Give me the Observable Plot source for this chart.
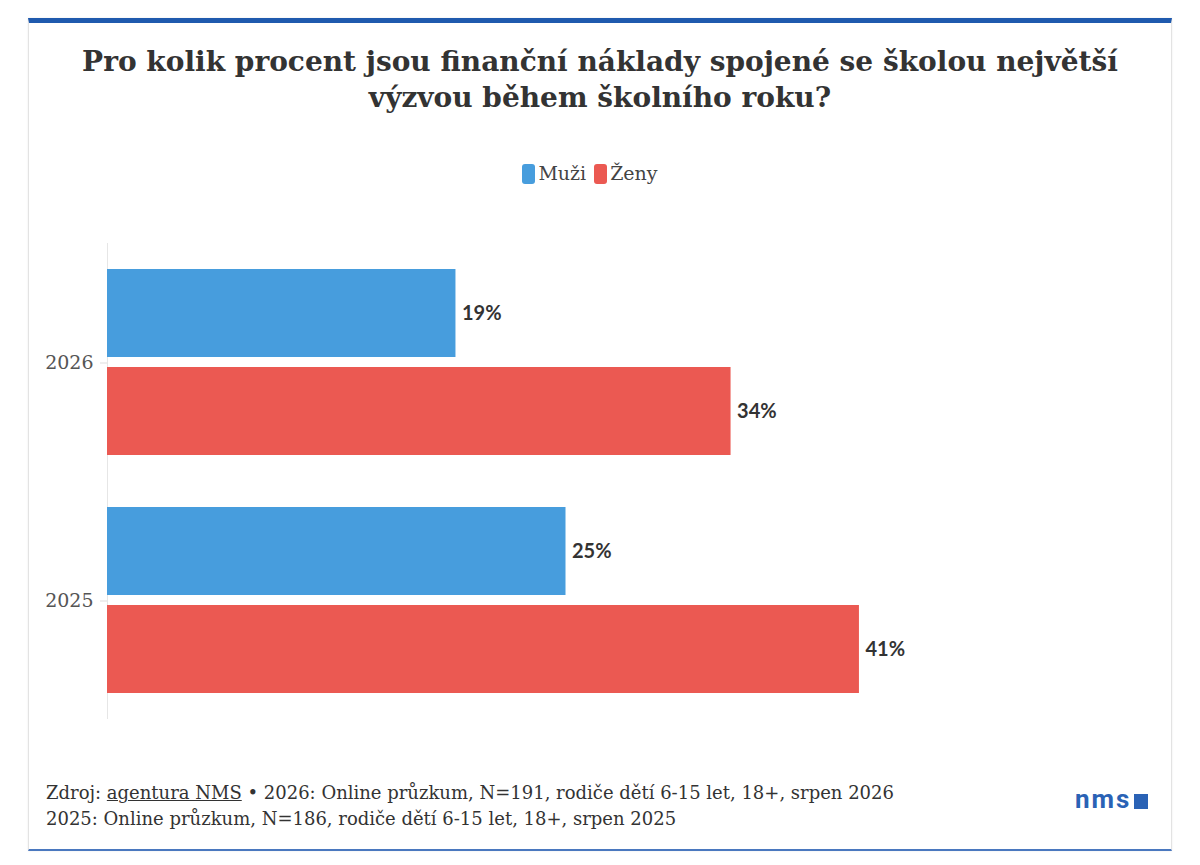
<!DOCTYPE html>
<html lang="cs">
  <head>
    <meta charset="UTF-8" />
    <title>Finanční náklady spojené se školou</title>
    <style>
      body { margin: 0; background: #fff; font-family: "DejaVu Serif", serif; color: #333; }
      #card {
        position: absolute; left: 28px; top: 18px; width: 1142px; height: 826px;
        border: 1px solid #e3e3e3; border-top: 5px solid #1f5aae; border-bottom: 2px solid #4a78bf;
        box-shadow: 0 0 2px rgba(0,0,0,0.08);
      }
      #title {
        position: absolute; left: 28px; width: 1144px; top: 44px; text-align: center;
        font-weight: bold; font-size: 28px; line-height: 36px; color: #333;
      }
      #legend {
        position: absolute; left: 0; width: 1180px; top: 162px; text-align: center;
        font-size: 19px; color: #444;
      }
      #legend span.sw {
        display: inline-block; width: 13px; height: 20px; border-radius: 3px;
        vertical-align: -4px; margin-right: 3px;
      }
      #legend span.item { margin: 0 4px; }
      #chart { position: absolute; left: 0; top: 220px; }
      #footer {
        position: absolute; left: 46px; top: 780px; font-size: 18px; line-height: 26px; color: #333;
      }
      #footer u { text-decoration-thickness: 1px; }
      #logo {
        position: absolute; left: 1075px; top: 784px; font-family: Roboto, sans-serif;
        font-weight: bold; font-size: 26px; color: #2a62b5; letter-spacing: 2px;
      }
      #logo span { display: inline-block; width: 14px; height: 15px; background: #2a62b5; margin-left: 3px; vertical-align: -1px; }
    </style>
  </head>
  <body>
    <div id="card"></div>
    <div id="title">Pro kolik procent jsou finanční náklady spojené se školou největší<br />výzvou během školního roku?</div>
    <div id="legend"></div>
    <div id="chart"></div>
    <div id="footer">
      Zdroj: <u>agentura NMS</u> • 2026: Online průzkum, N=191, rodiče dětí 6-15 let, 18+, srpen 2026<br />
      2025: Online průzkum, N=186, rodiče dětí 6-15 let, 18+, srpen 2025
    </div>
    <div id="logo">nms<span></span></div>

    <script src="https://cdn.jsdelivr.net/npm/d3@7"></script>
    <script src="https://cdn.jsdelivr.net/npm/@observablehq/plot@0.6"></script>

    <script>
      const years = ["2026", "2025"];
      const genders = ["Muži", "Ženy"];
      const colors = ["#479ddd", "#eb5952"];
      const muzi = [19, 25];
      const zeny = [34, 41];

      const data = years.flatMap((year, i) => [
        { year, gender: genders[0], value: muzi[i] },
        { year, gender: genders[1], value: zeny[i] },
      ]);

      // legenda
      document.querySelector("#legend").innerHTML = genders
        .map((g, i) => `<span class="item"><span class="sw" style="background:${colors[i]}"></span>${g}</span>`)
        .join("");

      const plot = Plot.plot({
        width: 1200,
        height: 510,
        marginTop: 23,
        marginBottom: 10,
        marginLeft: 107,
        marginRight: 176,
        style: { fontFamily: "DejaVu Serif, serif", background: "transparent" },
        x: { domain: [0, 50], axis: null },
        y: { domain: genders, axis: null, paddingInner: 0.1, paddingOuter: 0 },
        fy: { domain: years, paddingInner: 0.213, paddingOuter: 0.105, label: null },
        color: { domain: genders, range: colors },
        marks: [
          Plot.ruleX([0], { stroke: "#e6e6e6", insetTop: -26, insetBottom: -25 }),
          Plot.barX(data, { x: "value", y: "gender", fy: "year", fill: "gender" }),
          Plot.text(data, {
            x: "value",
            y: "gender",
            fy: "year",
            text: (d) => d.value + "%",
            textAnchor: "start",
            dx: 6,
            fontFamily: "Lato, sans-serif",
            fontWeight: "bold",
            fontSize: 20,
            fill: "#333",
          }),
          Plot.axisFy({
            anchor: "left",
            label: null,
            tickSize: 7,
            tickPadding: 7,
            stroke: "#dddddd",
            fill: "#555",
            fontSize: 19,
          }),
        ],
      });

      document.querySelector("#chart").append(plot);
    </script>
  </body>
</html>
